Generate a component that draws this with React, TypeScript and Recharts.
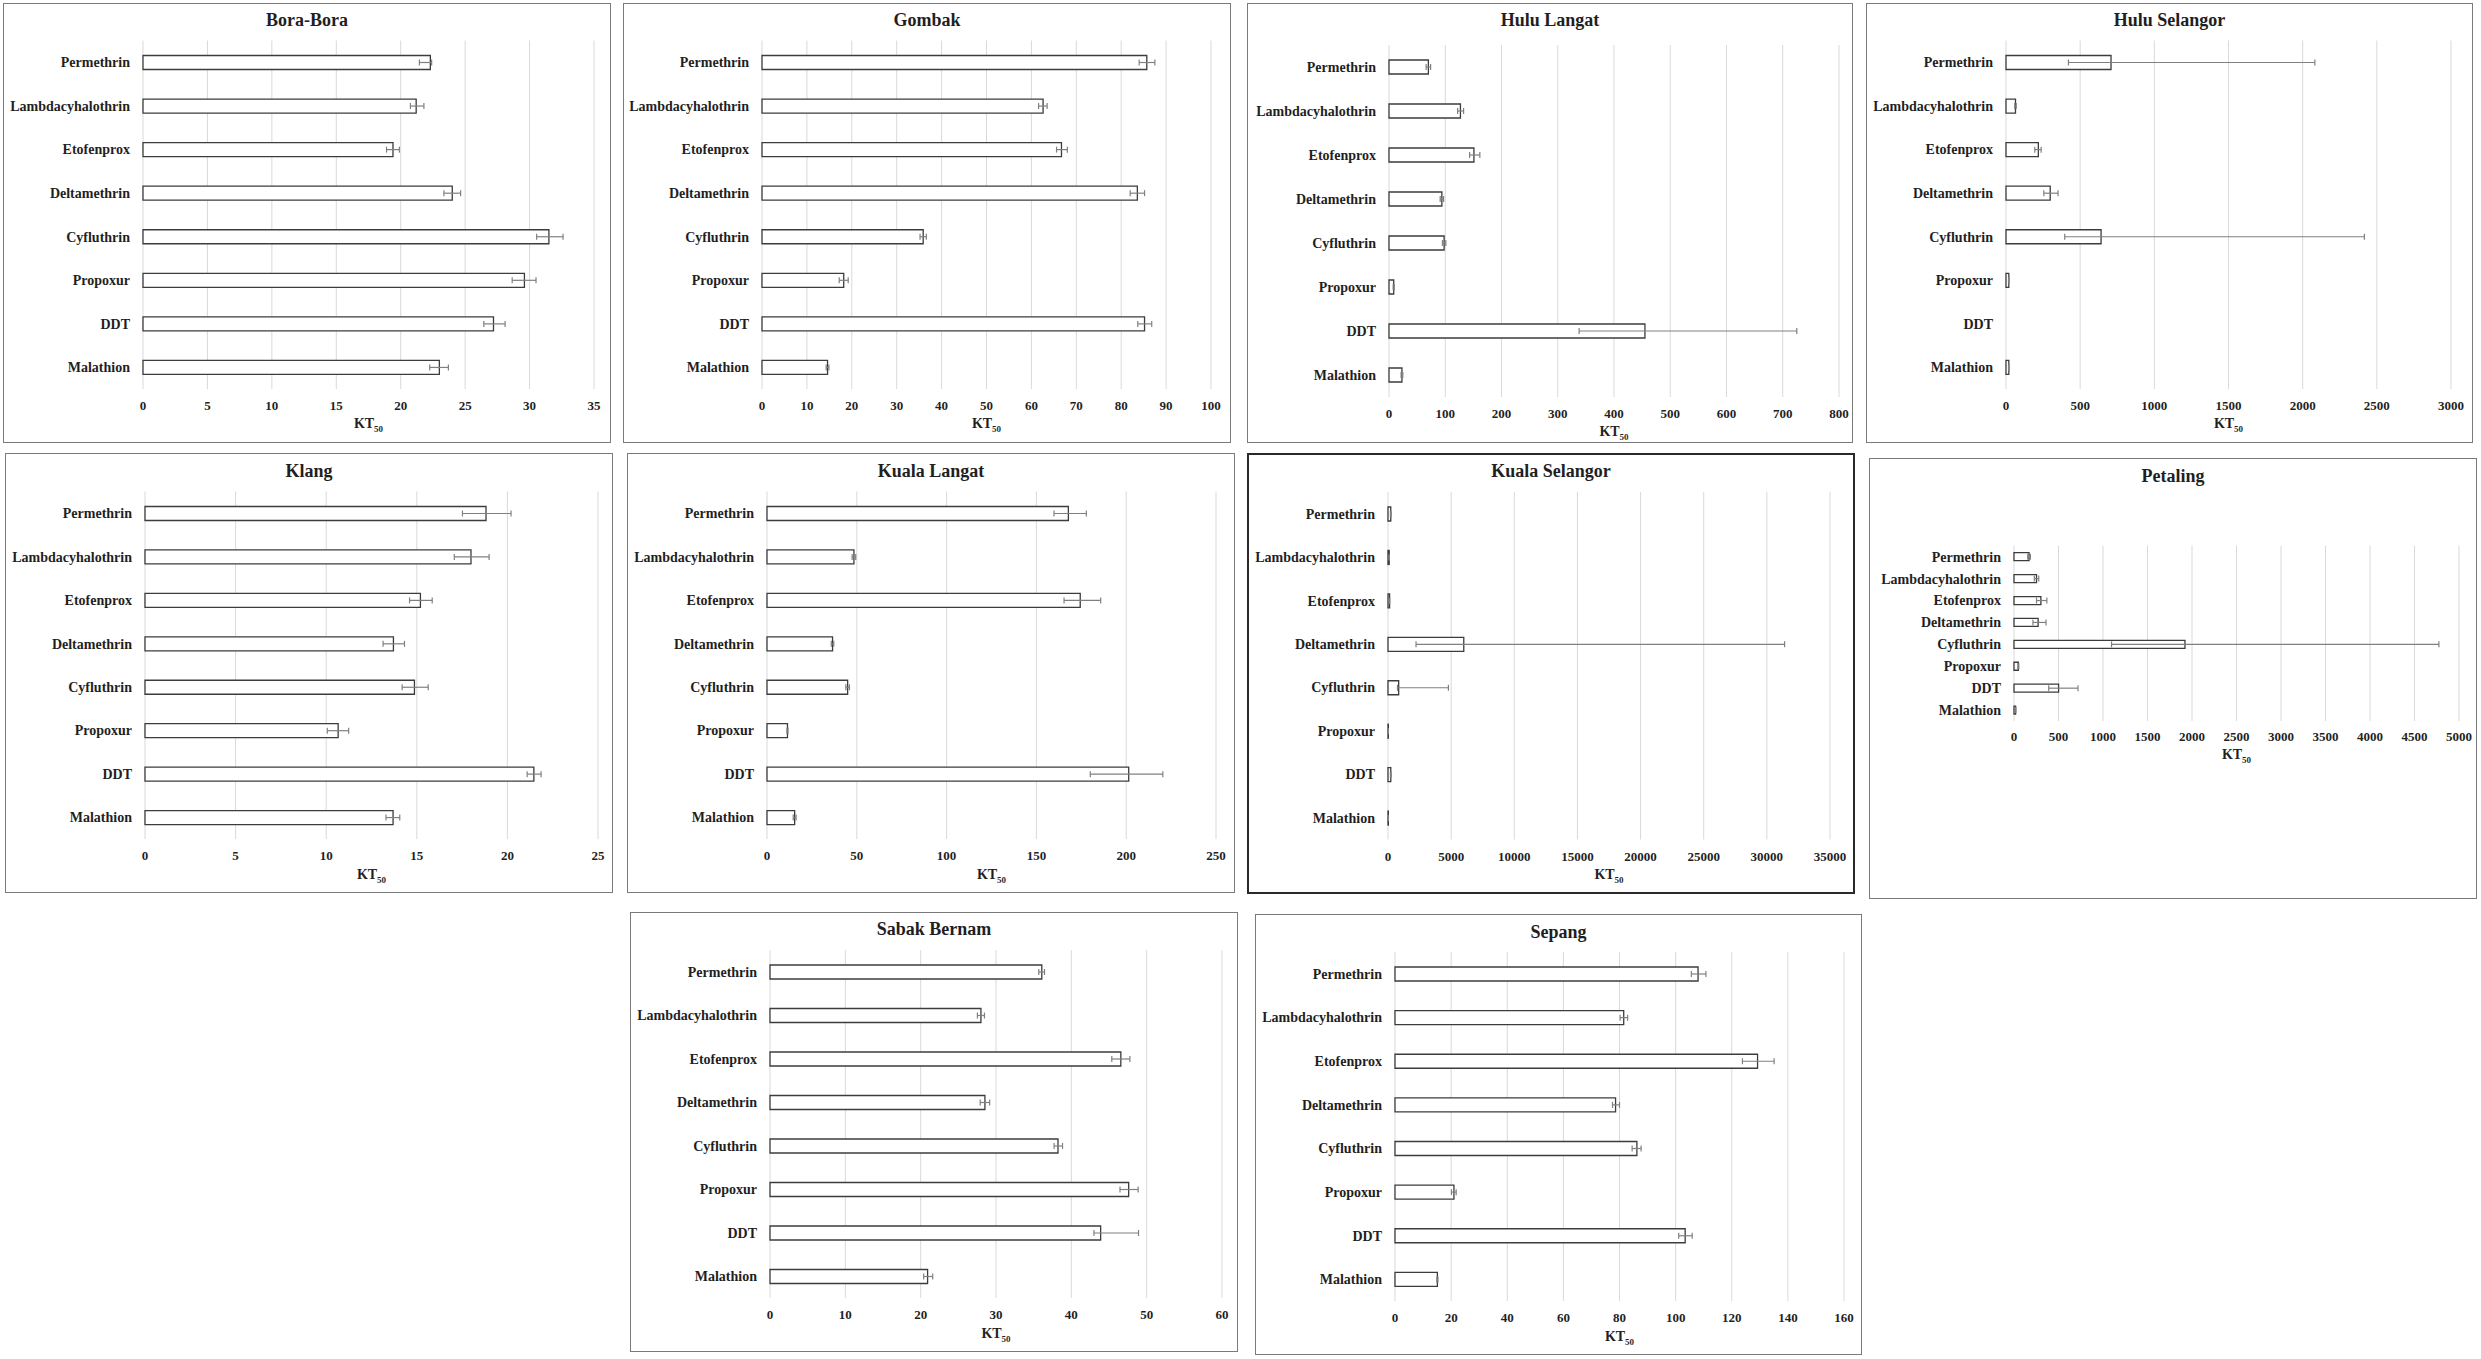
import React from 'react';
import { BarChart, Bar, XAxis, YAxis, CartesianGrid, ErrorBar } from 'recharts';

// ---------- DATA ----------
const CATEGORIES = ['Permethrin', 'Lambdacyhalothrin', 'Etofenprox', 'Deltamethrin', 'Cyfluthrin', 'Propoxur', 'DDT', 'Malathion'];

const boraValues = [22.3, 21.2, 19.4, 24.0, 31.5, 29.6, 27.2, 23.0];
const boraLow = [0.85, 0.45, 0.5, 0.65, 0.95, 0.95, 0.75, 0.75];
const boraHigh = [0.1, 0.6, 0.5, 0.65, 1.1, 0.9, 0.9, 0.7];
const boraTicks = [0, 5, 10, 15, 20, 25, 30, 35];

const gombakValues = [85.7, 62.6, 66.7, 83.6, 35.9, 18.2, 85.2, 14.6];
const gombakLow = [1.7, 1.0, 1.1, 1.6, 0.7, 1.0, 1.5, 0.3];
const gombakHigh = [1.8, 0.9, 1.3, 1.6, 0.7, 1.0, 1.6, 0.3];
const gombakTicks = [0, 10, 20, 30, 40, 50, 60, 70, 80, 90, 100];

const huluLangatValues = [70, 127, 151, 94, 98, 8.4, 455, 23];
const huluLangatLow = [4, 5, 7.7, 3, 3, 1, 117, 1.5];
const huluLangatHigh = [4, 5.6, 10.5, 3, 3, 1, 270, 1.5];
const huluLangatTicks = [0, 100, 200, 300, 400, 500, 600, 700, 800];

const huluSelangorValues = [708, 64, 218, 298, 641, 19, null, 19];
const huluSelangorLow = [287, 5, 24, 43, 245, 2, null, 2];
const huluSelangorHigh = [1374, 5, 19, 53, 1775, 2, null, 2];
const huluSelangorTicks = [0, 500, 1000, 1500, 2000, 2500, 3000];

const klangValues = [18.82, 17.99, 15.2, 13.71, 14.87, 10.66, 21.46, 13.69];
const klangLow = [1.3, 0.92, 0.6, 0.57, 0.68, 0.6, 0.37, 0.39];
const klangHigh = [1.38, 1.0, 0.65, 0.61, 0.76, 0.58, 0.4, 0.37];
const klangTicks = [0, 5, 10, 15, 20, 25];

const kualaLangatValues = [167.8, 48.4, 174.4, 36.5, 44.9, 11.4, 201.4, 15.4];
const kualaLangatLow = [8, 1, 9, 0.7, 1, 0.3, 21.4, 0.8];
const kualaLangatHigh = [10, 1, 11.4, 0.7, 1, 0.3, 19, 0.8];
const kualaLangatTicks = [0, 50, 100, 150, 200, 250];

const kualaSelangorValues = [220, 95, 125, 6000, 845, 30, 220, 30];
const kualaSelangorLow = [30, 10, 15, 3781, 95, 5, 30, 5];
const kualaSelangorHigh = [30, 10, 15, 25406, 3937, 5, 30, 5];
const kualaSelangorTicks = [0, 5000, 10000, 15000, 20000, 25000, 30000, 35000];

const petalingValues = [169, 253, 302, 271, 1921, 49, 501, 18];
const petalingLow = [15, 25, 49, 58, 825, 5, 111, 3];
const petalingHigh = [15, 25, 67, 89, 2853, 5, 218, 3];
const petalingTicks = [0, 500, 1000, 1500, 2000, 2500, 3000, 3500, 4000, 4500, 5000];

const sabakValues = [36.08, 28.0, 46.57, 28.53, 38.23, 47.61, 43.89, 20.92];
const sabakLow = [0.4, 0.47, 1.2, 0.63, 0.52, 1.15, 0.89, 0.52];
const sabakHigh = [0.36, 0.47, 1.2, 0.63, 0.6, 1.26, 5.03, 0.68];
const sabakTicks = [0, 10, 20, 30, 40, 50, 60];

const sepangValues = [108.0, 81.5, 129.2, 78.6, 86.2, 21.0, 103.4, 15.1];
const sepangLow = [2.4, 1.3, 5.4, 1.1, 1.7, 0.9, 2.3, 0.2];
const sepangHigh = [2.8, 1.4, 5.9, 1.4, 1.5, 0.8, 2.5, 0.2];
const sepangTicks = [0, 20, 40, 60, 80, 100, 120, 140, 160];

// ---------- LAYOUT ----------
type Layout = {
  x: number; y: number; w: number; h: number;
  pl: number; pt: number; pw: number; ph: number;
  barSize: number; titleY: number; ktY: number; tickGap: number; dark?: boolean;
};

const panels: { title: string; values: (number | null)[]; low: (number | null)[]; high: (number | null)[]; ticks: number[]; layout: Layout }[] = [
  { title: 'Bora-Bora', values: boraValues, low: boraLow, high: boraHigh, ticks: boraTicks,
    layout: { x: 3, y: 3, w: 608, h: 440, pl: 140, pt: 37.5, pw: 451, ph: 348.5, barSize: 14, titleY: 17, ktY: 421, tickGap: 12 } },
  { title: 'Gombak', values: gombakValues, low: gombakLow, high: gombakHigh, ticks: gombakTicks,
    layout: { x: 623, y: 3, w: 608, h: 440, pl: 139, pt: 37.5, pw: 449, ph: 348.5, barSize: 14, titleY: 17, ktY: 421, tickGap: 12 } },
  { title: 'Hulu Langat', values: huluLangatValues, low: huluLangatLow, high: huluLangatHigh, ticks: huluLangatTicks,
    layout: { x: 1247, y: 3, w: 606, h: 440, pl: 142, pt: 42, pw: 450, ph: 352, barSize: 14, titleY: 17, ktY: 429, tickGap: 12 } },
  { title: 'Hulu Selangor', values: huluSelangorValues, low: huluSelangorLow, high: huluSelangorHigh, ticks: huluSelangorTicks,
    layout: { x: 1866, y: 3, w: 607, h: 440, pl: 140, pt: 37.5, pw: 445, ph: 348.5, barSize: 14, titleY: 17, ktY: 421, tickGap: 12 } },
  { title: 'Klang', values: klangValues, low: klangLow, high: klangHigh, ticks: klangTicks,
    layout: { x: 5, y: 453, w: 608, h: 440, pl: 140, pt: 38.5, pw: 453, ph: 347.5, barSize: 14, titleY: 17.5, ktY: 422, tickGap: 12 } },
  { title: 'Kuala Langat', values: kualaLangatValues, low: kualaLangatLow, high: kualaLangatHigh, ticks: kualaLangatTicks,
    layout: { x: 627, y: 453, w: 608, h: 440, pl: 140, pt: 38.5, pw: 449, ph: 347.5, barSize: 14, titleY: 17.5, ktY: 422, tickGap: 12 } },
  { title: 'Kuala Selangor', values: kualaSelangorValues, low: kualaSelangorLow, high: kualaSelangorHigh, ticks: kualaSelangorTicks,
    layout: { x: 1247, y: 453, w: 608, h: 441, pl: 141, pt: 39, pw: 442, ph: 347.5, barSize: 14, titleY: 18, ktY: 422, tickGap: 12, dark: true } },
  { title: 'Petaling', values: petalingValues, low: petalingLow, high: petalingHigh, ticks: petalingTicks,
    layout: { x: 1869, y: 458, w: 608, h: 441, pl: 145, pt: 87.7, pw: 445, ph: 175.3, barSize: 8, titleY: 18, ktY: 297, tickGap: 11 } },
  { title: 'Sabak Bernam', values: sabakValues, low: sabakLow, high: sabakHigh, ticks: sabakTicks,
    layout: { x: 630, y: 912, w: 608, h: 440, pl: 140, pt: 38, pw: 452, ph: 348, barSize: 14, titleY: 17, ktY: 422, tickGap: 12 } },
  { title: 'Sepang', values: sepangValues, low: sepangLow, high: sepangHigh, ticks: sepangTicks,
    layout: { x: 1255, y: 914, w: 607, h: 441, pl: 140, pt: 38, pw: 449, ph: 349, barSize: 14, titleY: 18, ktY: 423, tickGap: 12 } },
];

const FONT = '"Liberation Serif", "Times New Roman", serif';
const TEXT = '#1f1f1f';

function Panel({ p }: { p: typeof panels[number] }) {
  const L = p.layout;
  const data = CATEGORIES.map((name, i) => ({
    name,
    v: p.values[i],
    err: p.values[i] == null ? null : [p.low[i] as number, p.high[i] as number],
  }));
  const xAxisH = 30;
  const margin = {
    top: L.pt,
    left: 0,
    right: L.w - L.pl - L.pw,
    bottom: L.h - L.pt - L.ph - xAxisH,
  };
  const max = p.ticks[p.ticks.length - 1];
  return (
    <div style={{ position: 'absolute', left: L.x, top: L.y, width: L.w, height: L.h }}>
      <div
        style={{
          position: 'absolute', left: 0, top: 0, width: L.w, height: L.h, boxSizing: 'border-box',
          border: L.dark ? '2px solid #2a2a2a' : '1.5px solid #7a7a7a',
        }}
      />
      <div style={{ position: 'absolute', left: 0, top: 0 }}>
        <BarChart width={L.w} height={L.h} data={data} layout="vertical" margin={margin} barCategoryGap={0}>
          <CartesianGrid horizontal={false} vertical stroke="#d9d9d9" strokeWidth={1} />
          <XAxis
            type="number"
            domain={[0, max]}
            ticks={p.ticks}
            interval={0}
            axisLine={false}
            tickLine={false}
            tickSize={0}
            tickMargin={L.tickGap}
            height={xAxisH}
            tick={{ fill: TEXT, fontSize: 13, fontWeight: 700, fontFamily: FONT }}
          />
          <YAxis
            type="category"
            dataKey="name"
            width={L.pl}
            interval={0}
            axisLine={false}
            tickLine={false}
            tickSize={0}
            tickMargin={13}
            tick={{ fill: TEXT, fontSize: 14, fontWeight: 700, fontFamily: FONT }}
          />
          <Bar dataKey="v" fill="#ffffff" stroke="#3c3c3c" strokeWidth={1.3} barSize={L.barSize} isAnimationActive={false}>
            <ErrorBar dataKey="err" direction="x" width={3} stroke="#808080" strokeWidth={1.2} isAnimationActive={false} />
          </Bar>
        </BarChart>
      </div>
      <div
        style={{
          position: 'absolute', left: 0, top: L.titleY - 12, width: L.w, height: 24, lineHeight: '24px',
          textAlign: 'center', fontFamily: FONT, fontWeight: 700, fontSize: 18, color: TEXT, whiteSpace: 'nowrap',
        }}
      >
        {p.title}
      </div>
      <div
        style={{
          position: 'absolute', left: L.pl, top: L.ktY - 10, width: L.pw, height: 20, lineHeight: '20px',
          textAlign: 'center', fontFamily: FONT, fontWeight: 700, fontSize: 14, color: TEXT, whiteSpace: 'nowrap',
        }}
      >
        KT<span style={{ fontSize: 9, position: 'relative', top: 4 }}>50</span>
      </div>
    </div>
  );
}

export default function App() {
  return (
    <div style={{ position: 'absolute', left: 0, top: 0, width: 2481, height: 1359, background: '#ffffff', overflow: 'hidden' }}>
      {panels.map((p) => (
        <Panel key={p.title} p={p} />
      ))}
    </div>
  );
}
